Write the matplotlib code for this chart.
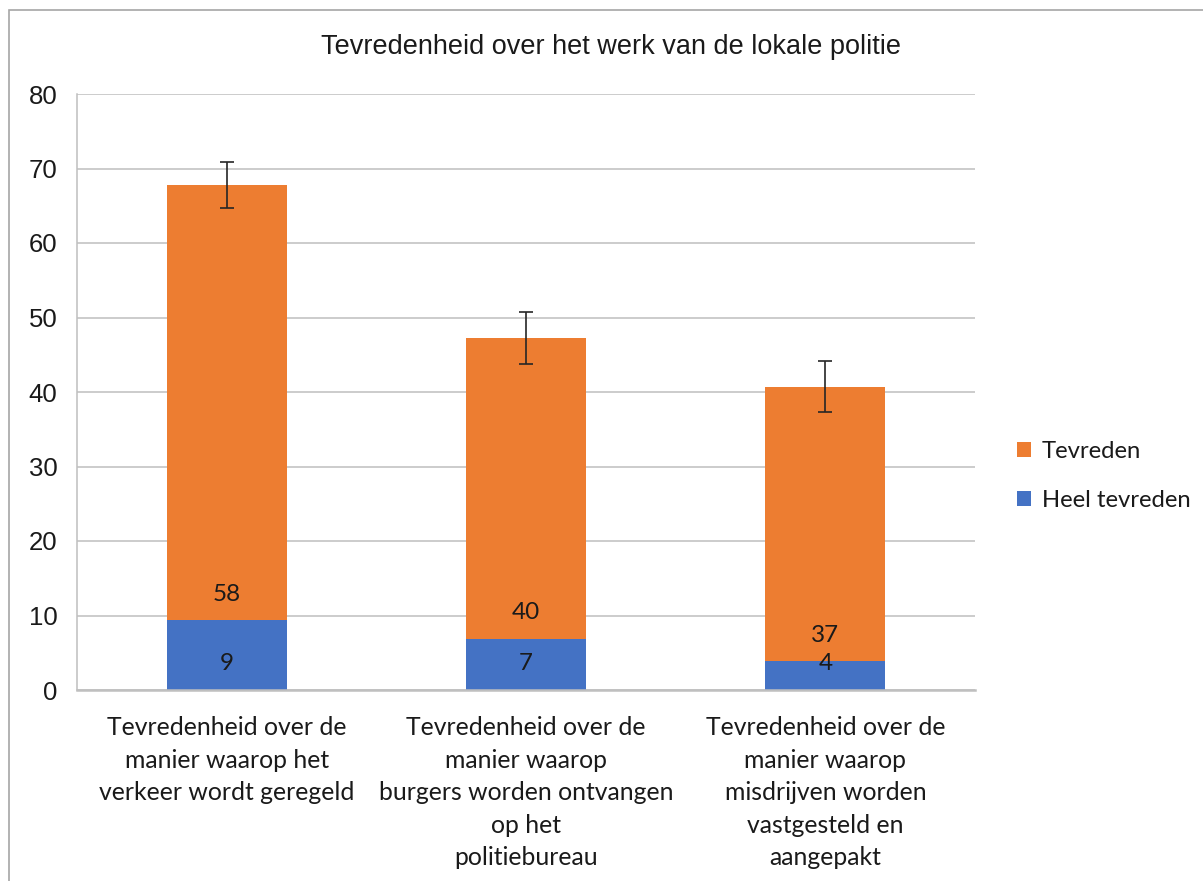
import numpy as np
import matplotlib.pyplot as plt
from matplotlib.patches import Rectangle

# Data
categories = [
    "Tevredenheid over de\nmanier waarop het\nverkeer wordt geregeld",
    "Tevredenheid over de\nmanier waarop\nburgers worden ontvangen\nop het\npolitiebureau",
    "Tevredenheid over de\nmanier waarop\nmisdrijven worden\nvastgesteld en\naangepakt",
]
heel_tevreden = [9.4, 6.9, 3.9]
tevreden = [58.4, 40.4, 36.8]
error = [3.1, 3.5, 3.4]

blue = "#4472C4"
orange = "#ED7D31"
calibri_like = "Lato"
arial_like = "Liberation Sans"

fig = plt.figure(figsize=(12.03, 8.81), dpi=100)
ax = fig.add_axes([77 / 1203, (881 - 690) / 881, (975 - 77) / 1203, (690 - 94) / 881])

x = np.arange(len(categories))
totals = np.array(heel_tevreden) + np.array(tevreden)

b1 = ax.bar(x, heel_tevreden, width=0.4, color=blue, label="Heel tevreden", zorder=2)
b2 = ax.bar(x, tevreden, width=0.4, bottom=heel_tevreden, color=orange, label="Tevreden", zorder=2)
ax.errorbar(x, totals, yerr=error, fmt="none", ecolor="#262626", elinewidth=1.2,
            capsize=5, capthick=1.2, zorder=3)

# data labels at the base of each segment
for i in range(len(x)):
    ax.annotate(f"{heel_tevreden[i]:.0f}", (x[i], 0), xytext=(0, 19), textcoords="offset points",
                ha="center", va="center", fontsize=17.5, family=calibri_like, color="#1a1a1a", zorder=4)
    ax.annotate(f"{tevreden[i]:.0f}", (x[i], heel_tevreden[i]), xytext=(0, 18.5), textcoords="offset points",
                ha="center", va="center", fontsize=17.5, family=calibri_like, color="#1a1a1a", zorder=4)

ax.set_xlim(-0.5, 2.5)
ax.set_ylim(0, 80)
ax.set_yticks(range(0, 81, 10))
ax.grid(axis="y", color="#bfbfbf", linewidth=1.1, zorder=0)
ax.set_axisbelow(True)
for s in ["top", "right"]:
    ax.spines[s].set_visible(False)
ax.spines["left"].set_color("#bfbfbf")
ax.spines["left"].set_linewidth(1.1)
ax.spines["bottom"].set_color("#bfbfbf")
ax.spines["bottom"].set_linewidth(1.8)
ax.tick_params(axis="y", length=0, pad=14, labelsize=18.5, labelcolor="#1a1a1a")
ax.tick_params(axis="x", length=0, pad=19)
for t in ax.get_yticklabels():
    t.set_family(arial_like)

ax.set_xticks(x)
ax.set_xticklabels(categories, fontsize=17.8, family=calibri_like, color="#1a1a1a",
                   linespacing=1.5, va="top")

fig.text(611 / 1203, 1 - 47 / 881, "Tevredenheid over het werk van de lokale politie",
         ha="center", va="center", fontsize=19.5, family=arial_like, color="#1a1a1a")

handles = [b2, b1]
ax.legend(handles, ["Tevreden", "Heel tevreden"], loc="center left",
          bbox_to_anchor=(995 / 1203, 1 - 476 / 881), bbox_transform=fig.transFigure,
          frameon=False, prop={"family": calibri_like, "size": 17.2},
          handlelength=0.6, handleheight=0.6, handletextpad=0.45, labelspacing=1.2,
          labelcolor="#1a1a1a")

# chart border
fig.patches.append(Rectangle((9 / 1203, -0.1), 1.2, 1 - 10 / 881 + 0.1, transform=fig.transFigure,
                             fill=False, edgecolor="#a6a6a6", linewidth=1.2))

fig.savefig("out.png", dpi=100)
